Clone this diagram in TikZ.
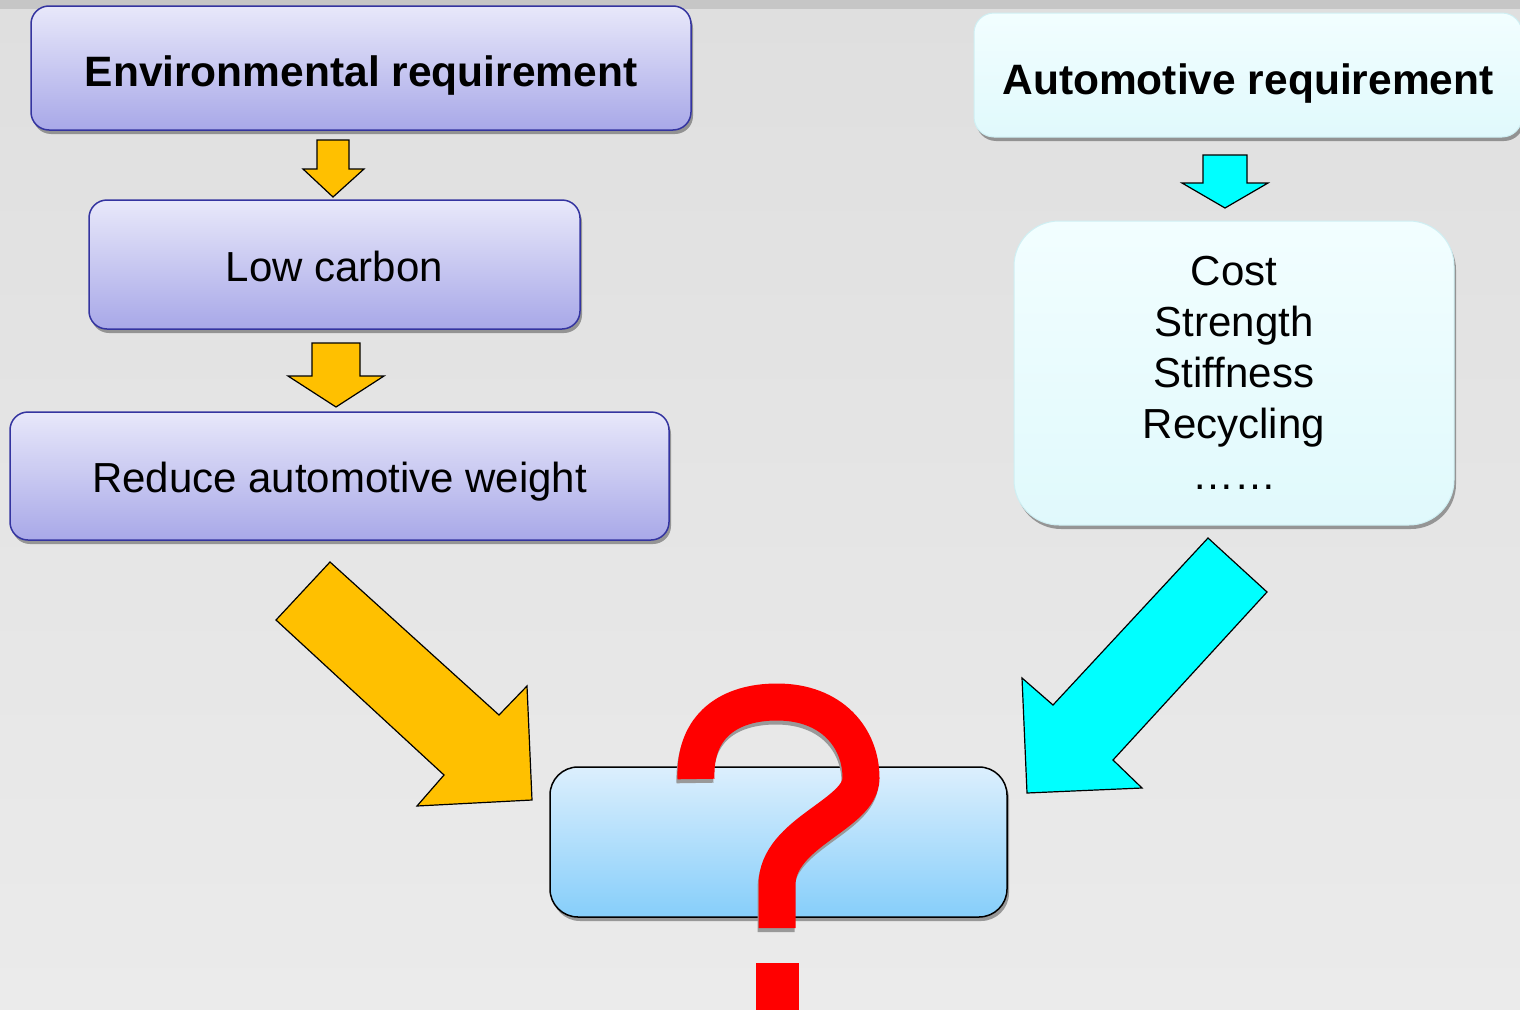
\documentclass[tikz,border=0pt]{standalone}
\usepackage{fontspec}
\setmainfont{Liberation Sans}
\usetikzlibrary{shadows}
\definecolor{bgtop}{HTML}{DFDFDF}
\definecolor{bgmid}{HTML}{D9D8D9}
\definecolor{bgbot}{HTML}{EBEBEB}
\definecolor{strip}{HTML}{C6C6C6}
\definecolor{envtop}{HTML}{E8E8FA}
\definecolor{envbot}{HTML}{A8A8E8}
\definecolor{envborder}{HTML}{3434A0}
\definecolor{cyantop}{HTML}{F2FEFF}
\definecolor{cyanbot}{HTML}{E0F9FC}
\definecolor{cyanborder}{HTML}{CFEFF3}
\definecolor{restop}{HTML}{DCEFFD}
\definecolor{resbot}{HTML}{86CEFA}
\definecolor{orangefill}{HTML}{FFC000}
\definecolor{cyanfill}{HTML}{00FFFF}
\definecolor{qred}{HTML}{FF0000}
\tikzset{
  bigfont/.style={font=\fontsize{42}{51}\selectfont},
  boldfont/.style={font=\fontsize{42.5}{51}\selectfont\bfseries},
  boxshadow/.style={drop shadow={shadow xshift=2pt, shadow yshift=-4pt, fill=black, opacity=0.35}},
  envbox/.style={rectangle, rounded corners=18pt, draw=envborder, line width=1.5pt,
    top color=envtop, bottom color=envbot, inner sep=0pt, bigfont, boxshadow, text depth=0pt},
  cyanbox/.style={rectangle, draw=cyanborder, line width=1pt,
    top color=cyantop, bottom color=cyanbot, inner sep=0pt, bigfont, boxshadow},
  resultbox/.style={rectangle, rounded corners=28pt, draw=black, line width=1.5pt,
    top color=restop, bottom color=resbot, inner sep=0pt, boxshadow},
  orangearrow/.style={fill=orangefill, draw=black, line width=1.2pt, line join=miter},
  cyanarrow/.style={fill=cyanfill, draw=black, line width=1.2pt, line join=miter},
  qmark/.style={draw=qred, line width=37pt, line cap=butt},
  qshadow/.style={draw=black!40, line width=37pt, line cap=butt},
}
\begin{document}
\begin{tikzpicture}[x=1pt,y=-1pt]
\useasboundingbox (0,0) rectangle (1520,1009);
% background
\shade[top color=bgtop, middle color=bgmid, bottom color=bgbot] (0,0) rectangle (1520,1009);
\fill[strip] (0,0) rectangle (1520,9);

% left column
\node[envbox, boldfont, minimum width=660pt, minimum height=124pt, text height=36pt] (env) at (361,68) {Environmental requirement};
\node[envbox, minimum width=491pt, minimum height=129pt, text height=33pt] (low) at (334.5,264.5) {Low carbon};
\node[envbox, minimum width=659pt, minimum height=128pt, text height=32pt] (reduce) at (339.5,476) {Reduce automotive weight};

% right column
\node[cyanbox, boldfont, rounded corners=20pt, minimum width=548pt, minimum height=124pt, text height=38pt, text depth=0pt] (auto) at (1248,75) {Automotive requirement};
\node[cyanbox, rounded corners=45pt, minimum width=440pt, minimum height=304pt, align=center] (list) at (1234,373) {Cost\\Strength\\Stiffness\\Recycling\\\char"2026\char"2026};

% result box
\node[resultbox, minimum width=457pt, minimum height=150pt] (result) at (778.5,842) {};

% small arrows
\draw[orangearrow] (317,140) -- (349,140) -- (349,169) -- (364,169) -- (333,197) -- (303,169) -- (317,169) -- cycle;
\draw[orangearrow] (312,343) -- (360,343) -- (360,376) -- (384,376) -- (336,407) -- (288,376) -- (312,376) -- cycle;
\draw[cyanarrow] (1203,155) -- (1247,155) -- (1247,183) -- (1268,183) -- (1225,208) -- (1182,183) -- (1203,183) -- cycle;

% big arrows
\draw[orangearrow] (330,562) -- (499,715) -- (527,686) -- (532,800) -- (417,806) -- (444,775) -- (276,620) -- cycle;
\draw[cyanarrow] (1208,538) -- (1267,592) -- (1113,760) -- (1142,788) -- (1027,793) -- (1022,678) -- (1053,705) -- cycle;

% question mark
\draw[qshadow, shift={(-1,4)}] (696,779) .. controls (694,725) and (730,702) .. (777,702) .. controls (832,702) and (861,738) .. (861,778) .. controls (861,815) and (777,832) .. (777,885) -- (777,928);
\draw[qmark] (696,779) .. controls (694,725) and (730,702) .. (777,702) .. controls (832,702) and (861,738) .. (861,778) .. controls (861,815) and (777,832) .. (777,885) -- (777,928);
\fill[qred] (756,963) rectangle (799,1015);
\end{tikzpicture}
\end{document}
